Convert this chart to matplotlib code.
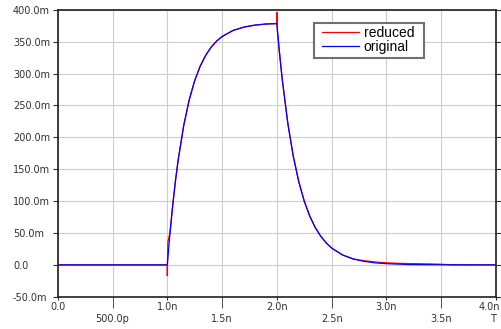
import matplotlib
matplotlib.use('Agg')
import matplotlib.pyplot as plt
from matplotlib.patches import Rectangle
from matplotlib.transforms import ScaledTranslation

# time in ns, voltage in mV
t_orig = [0.0, 1.0, 1.025, 1.05, 1.075, 1.10, 1.15, 1.20, 1.25, 1.30, 1.35, 1.40, 1.45, 1.50,
          1.60, 1.70, 1.80, 1.90, 2.00, 2.025, 2.05, 2.10, 2.15, 2.20, 2.25, 2.30, 2.35, 2.40,
          2.45, 2.50, 2.60, 2.70, 2.80, 2.90, 3.00, 3.20, 3.50, 4.00]
v_orig = [0.0, 0.0, 50.6, 94.4, 132.5, 165.4, 218.7, 258.8, 288.9, 311.6, 328.6, 341.4, 351.0, 358.2,
          367.7, 373.0, 376.1, 377.8, 378.5, 331.0, 289.7, 222.1, 170.2, 130.5, 100.0, 76.6, 58.7, 45.0,
          34.5, 26.4, 15.5, 9.1, 5.4, 3.1, 1.9, 0.6, 0.2, 0.0]

t_red = [0.0, 1.0, 1.0, 1.005, 1.025, 1.05, 1.075, 1.10, 1.15, 1.20, 1.25, 1.30, 1.35, 1.40, 1.45, 1.50,
         1.60, 1.70, 1.80, 1.90, 2.00, 2.00, 2.005, 2.025, 2.05, 2.10, 2.15, 2.20, 2.25, 2.30, 2.35, 2.40,
         2.45, 2.50, 2.60, 2.70, 2.80, 2.90, 3.00, 3.10, 3.20, 3.30, 3.40, 3.50, 3.60, 4.00]
v_red = [0.0, 0.0, -17.0, 36.0, 50.6, 94.4, 132.5, 165.4, 218.7, 258.8, 288.9, 311.6, 328.6, 341.4, 351.0, 358.2,
         367.7, 373.0, 376.1, 377.8, 378.5, 396.0, 366.0, 331.0, 289.7, 222.1, 170.2, 130.5, 100.0, 76.6, 58.7, 45.0,
         34.5, 26.4, 15.5, 9.1, 6.5, 4.5, 3.2, 2.5, 2.0, 1.8, 1.5, 1.0, 0.0, 0.0]

y_ticks = [-50, 0, 50, 100, 150, 200, 250, 300, 350, 400]
y_labels = ['-50.0m', '0.0', '50.0m', '100.0m', '150.0m', '200.0m', '250.0m', '300.0m', '350.0m', '400.0m']
x_major = [0.0, 1.0, 2.0, 3.0, 4.0]
x_major_labels = ['0.0', '1.0n', '2.0n', '3.0n', '4.0n']
x_minor = [0.5, 1.5, 2.5, 3.5]
x_minor_labels = ['500.0p', '1.5n', '2.5n', '3.5n']

fig = plt.figure(figsize=(5.02, 3.29), dpi=100)
ax = fig.add_axes([0.115, 0.098, 0.873, 0.872])

ax.plot(t_red, v_red, color='#ff0000', lw=0.9, label='reduced', zorder=3)
ax.plot(t_orig, v_orig, color='#0000ff', lw=0.9, label='original', zorder=4)

ax.set_xlim(0, 4.0)
ax.set_ylim(-50, 400)

ax.set_yticks(y_ticks)
ax.set_yticklabels(y_labels)
ax.set_xticks(x_major)
ax.set_xticklabels(x_major_labels)
ax.set_xticks(x_minor, minor=True)
ax.set_xticklabels(x_minor_labels, minor=True)

ax.tick_params(axis='x', which='major', length=2.2, pad=1.5, labelsize=7, colors='#303030')
ax.tick_params(axis='x', which='minor', length=7.7, pad=4.5, labelsize=7, colors='#303030')
ax.tick_params(axis='y', length=3.6, pad=28.6, labelsize=7, right=True, colors='#303030')
for lab in ax.get_yticklabels():
    lab.set_horizontalalignment('left')

# last x label sits against the right edge in the reference
last = ax.get_xticklabels()[-1]
last.set_transform(last.get_transform() + ScaledTranslation(-5 / 72, 0, fig.dpi_scale_trans))

ax.grid(True, which='both', color='#cccccc', lw=0.8, zorder=0)
ax.set_axisbelow(True)
for s in ax.spines.values():
    s.set_color('#202020')
    s.set_linewidth(1.2)

ax.annotate('T', xy=(4.0, 0), xycoords=('data', 'axes fraction'), xytext=(-2, -12.2),
            textcoords='offset points', ha='center', va='top', fontsize=7, color='#303030')

# legend box drawn by hand (wider padding on the right than matplotlib allows)
ax.add_patch(Rectangle((0.585, 0.8326), 0.251, 0.1224, transform=ax.transAxes, facecolor='white',
                       edgecolor='#707070', lw=1.5, zorder=5))
leg = ax.legend(loc='upper left', bbox_to_anchor=(0.603, 0.944), prop={'family': 'Liberation Sans', 'size': 10},
                handlelength=2.65, handletextpad=0.35, borderpad=0, labelspacing=0.0,
                frameon=False, borderaxespad=0)
leg.set_zorder(6)

fig.savefig('out.png', dpi=100)
